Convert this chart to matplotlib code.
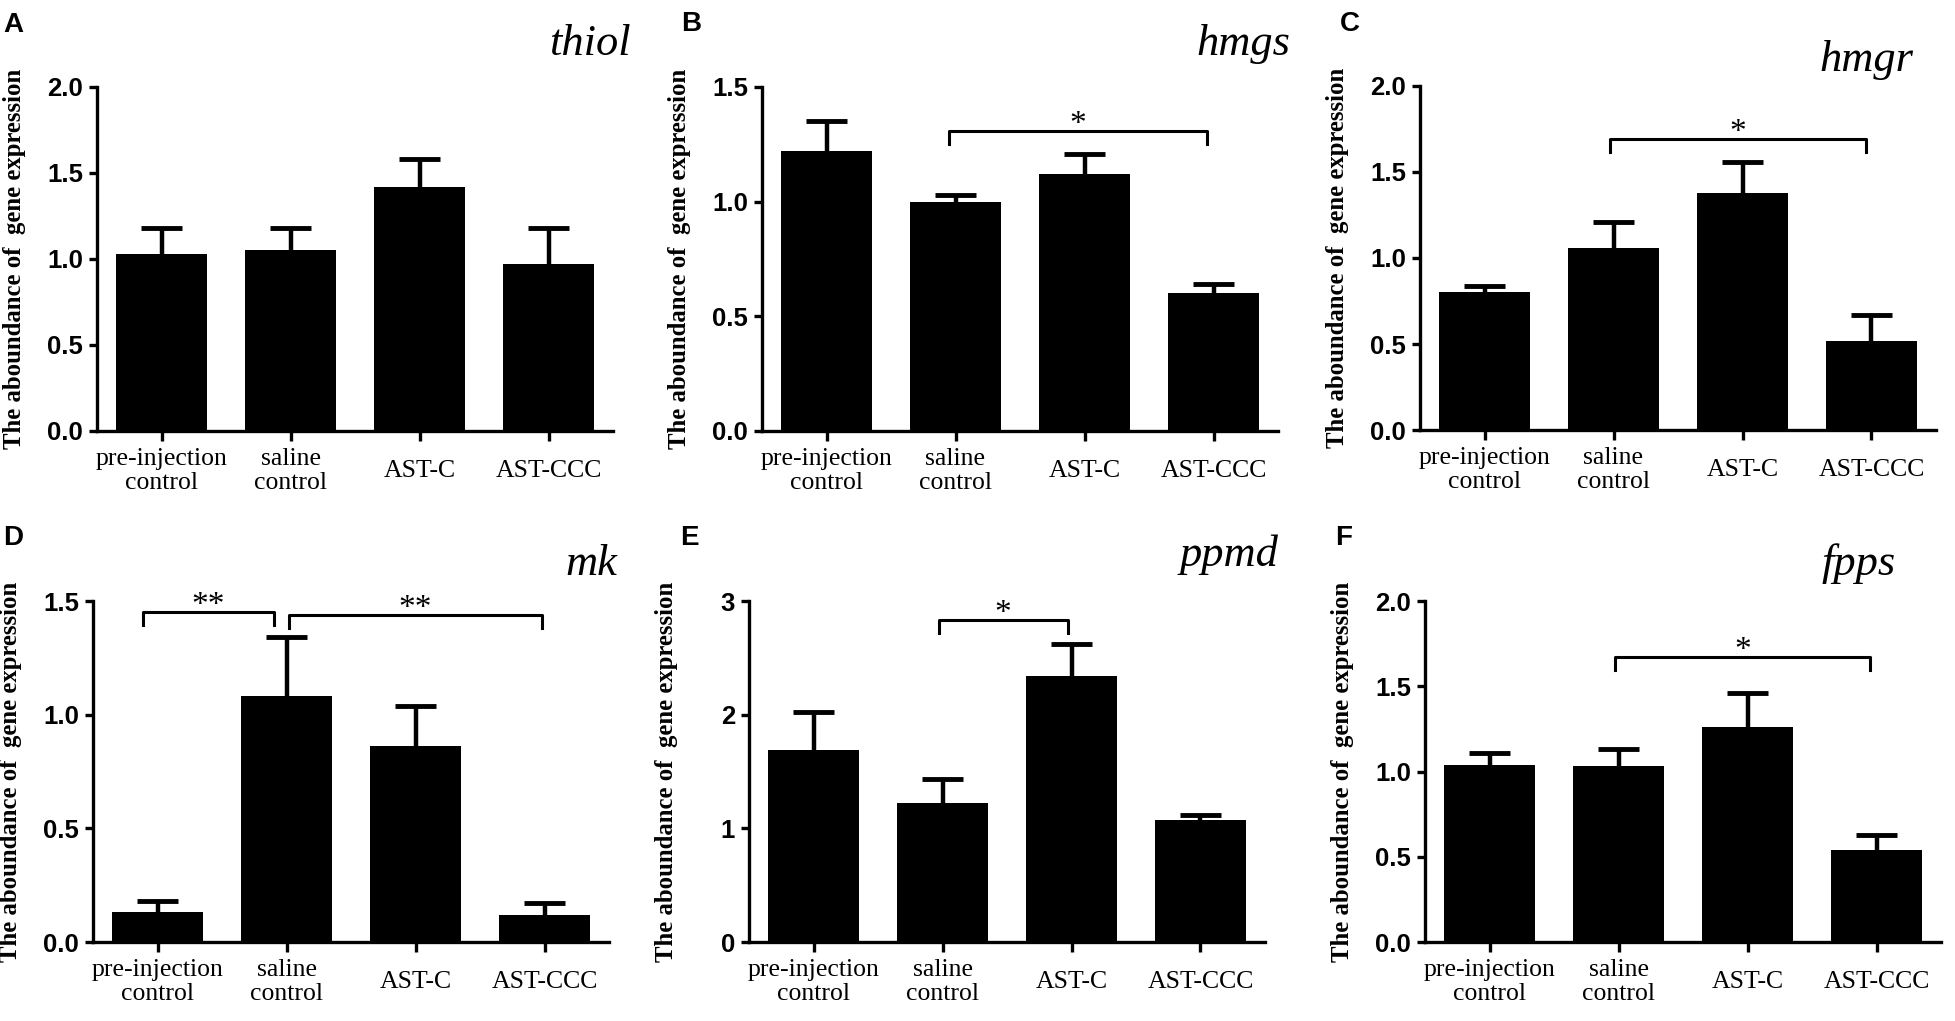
import matplotlib
matplotlib.use("Agg")
import matplotlib.pyplot as plt

plt.rcParams['font.family'] = ['Liberation Serif', 'DejaVu Serif']

# categories shared by every panel
groups = ['pre-injection\ncontrol', 'saline\ncontrol', 'AST-C', 'AST-CCC']

# gene names (panel titles) and panel letters
genes = ['thiol', 'hmgs', 'hmgr', 'mk', 'ppmd', 'fpps']
letters = ['A', 'B', 'C', 'D', 'E', 'F']

# bar heights and upper error (SE)
thiol_mean = [1.03, 1.05, 1.42, 0.97]
thiol_err = [0.15, 0.13, 0.16, 0.21]
hmgs_mean = [1.22, 1.00, 1.12, 0.60]
hmgs_err = [0.13, 0.03, 0.09, 0.04]
hmgr_mean = [0.80, 1.06, 1.38, 0.52]
hmgr_err = [0.04, 0.15, 0.18, 0.15]
mk_mean = [0.13, 1.08, 0.86, 0.12]
mk_err = [0.05, 0.26, 0.18, 0.05]
ppmd_mean = [1.69, 1.22, 2.34, 1.07]
ppmd_err = [0.33, 0.21, 0.28, 0.05]
fpps_mean = [1.04, 1.03, 1.26, 0.54]
fpps_err = [0.07, 0.10, 0.20, 0.09]

# y axis ranges and tick steps
ymax = [2.0, 1.5, 2.0, 1.5, 3.0, 2.0]
ystep = [0.5, 0.5, 0.5, 0.5, 1.0, 0.5]

# significance brackets: (x start, x end, height, label)
thiol_sig = []
hmgs_sig = [(0.95, 2.95, 1.31, '*')]
hmgr_sig = [(0.97, 2.96, 1.69, '*')]
mk_sig = [(-0.11, 0.9, 1.45, '**'), (1.02, 2.98, 1.44, '**')]
ppmd_sig = [(0.97, 1.97, 2.83, '*')]
fpps_sig = [(0.97, 2.95, 1.67, '*')]

means = [thiol_mean, hmgs_mean, hmgr_mean, mk_mean, ppmd_mean, fpps_mean]
errs = [thiol_err, hmgs_err, hmgr_err, mk_err, ppmd_err, fpps_err]
sigs = [thiol_sig, hmgs_sig, hmgr_sig, mk_sig, ppmd_sig, fpps_sig]

# layout in output pixels (left, right, top, bottom of each axes)
W, H = 1955.0, 1021.0
boxes = [(97, 613, 87, 431), (762, 1278, 87, 431), (1420, 1936, 86, 430),
         (93, 609, 601, 942), (749, 1265, 601, 942), (1425, 1941, 601, 942)]
title_pos = [(631, 55), (1290, 55), (1913, 71), (617, 575), (1278, 566), (1896, 575)]
letter_pos = [(3, 32), (681, 31), (1340, 31), (3, 545), (680, 545), (1335, 545)]

fig = plt.figure(figsize=(19.55, 10.21), dpi=100)

for k in range(6):
    x0, x1, yt, yb = boxes[k]
    ax = fig.add_axes([x0 / W, 1 - yb / H, (x1 - x0) / W, (yb - yt) / H])
    xs = list(range(len(groups)))
    ax.bar(xs, means[k], width=0.7, color='black', zorder=2)
    # upper error bars only
    tops = [m + e for m, e in zip(means[k], errs[k])]
    ax.vlines(xs, means[k], tops, color='black', lw=3.2, zorder=3)
    ax.hlines(tops, [x - 0.16 for x in xs], [x + 0.16 for x in xs],
              color='black', lw=3.5, zorder=3)

    ax.set_xlim(-0.5, 3.5)
    ax.set_ylim(0, ymax[k])
    n = int(round(ymax[k] / ystep[k]))
    ticks = [i * ystep[k] for i in range(n + 1)]
    ax.set_yticks(ticks)
    if ystep[k] >= 1:
        ax.set_yticklabels(['%d' % t for t in ticks])
    else:
        ax.set_yticklabels(['%.1f' % t for t in ticks])
    ax.set_xticks(xs)
    ax.set_xticklabels(groups, fontsize=18.5, linespacing=1.1)
    plt.setp(ax.get_xticklabels(), va='center')

    for lab in ax.get_yticklabels():
        lab.set_family('Liberation Sans')
        lab.set_fontweight('bold')
        lab.set_fontsize(18.5)

    for s in ['top', 'right']:
        ax.spines[s].set_visible(False)
    for s in ['left', 'bottom']:
        ax.spines[s].set_linewidth(2.4)
    ax.tick_params(axis='y', direction='out', length=6, width=2.4, pad=4)
    ax.tick_params(axis='x', direction='out', length=7, width=2.4, pad=22)

    ax.set_ylabel('The aboundance of  gene expression', fontsize=17.8,
                  fontweight='bold')
    ax.yaxis.set_label_coords(-0.138, 0.5)

    # significance brackets
    leg = 0.038 * ymax[k]
    for xa, xb, y, txt in sigs[k]:
        ax.plot([xa, xa, xb, xb], [y - leg, y, y, y - leg], color='black',
                lw=2.2, clip_on=False, zorder=4)
        ax.annotate(txt, ((xa + xb) / 2, y), xytext=(0, -1.5),
                    textcoords='offset points', ha='center', va='baseline',
                    fontsize=24, annotation_clip=False)

    tx, ty = title_pos[k]
    fig.text(tx / W, 1 - ty / H, genes[k], ha='right', va='baseline',
             fontsize=32, style='italic')
    lx, ly = letter_pos[k]
    fig.text(lx / W, 1 - ly / H, letters[k], ha='left', va='baseline',
             fontsize=20, fontweight='bold', family='Liberation Sans')

fig.savefig('out.png', dpi=100)
